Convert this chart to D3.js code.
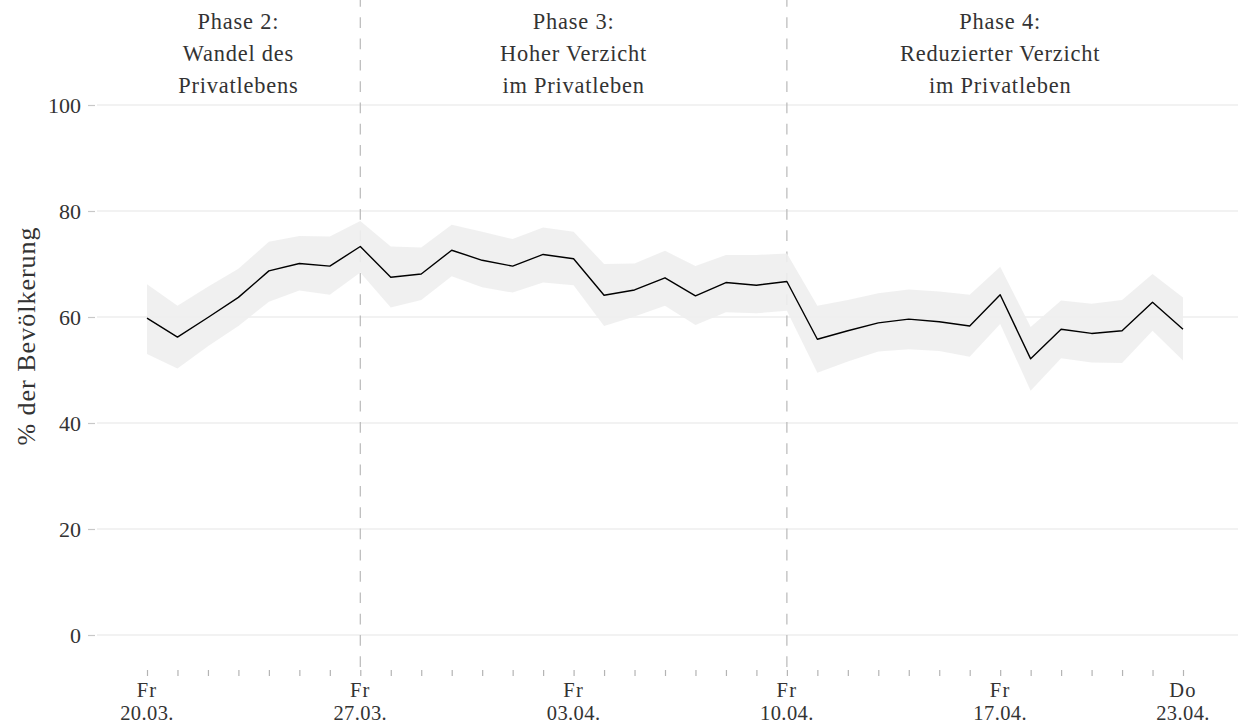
<!DOCTYPE html>
<html>
<head>
<meta charset="utf-8">
<script src="https://cdn.jsdelivr.net/npm/d3@7"></script>
<style>
  body { margin: 0; background: #fff; }
  svg { display: block; }
  text { font-family: "Liberation Serif", serif; fill: #333; }
</style>
</head>
<body>
<div class="chart"></div>
<script>
(function() {
  // Daten: Anteil der Bevölkerung mit Verzicht im Privatleben (mit Konfidenzband)
  var days = ["2020-03-20","2020-03-21","2020-03-22","2020-03-23","2020-03-24","2020-03-25","2020-03-26",
    "2020-03-27","2020-03-28","2020-03-29","2020-03-30","2020-03-31","2020-04-01","2020-04-02",
    "2020-04-03","2020-04-04","2020-04-05","2020-04-06","2020-04-07","2020-04-08","2020-04-09",
    "2020-04-10","2020-04-11","2020-04-12","2020-04-13","2020-04-14","2020-04-15","2020-04-16",
    "2020-04-17","2020-04-18","2020-04-19","2020-04-20","2020-04-21","2020-04-22","2020-04-23"];
  var share = [59.8, 56.2, 59.9, 63.7, 68.7, 70.1, 69.6,
    73.3, 67.5, 68.1, 72.6, 70.7, 69.6, 71.8,
    71.0, 64.1, 65.1, 67.4, 64.0, 66.5, 66.0,
    66.7, 55.8, 57.4, 58.9, 59.6, 59.1, 58.3,
    64.2, 52.1, 57.7, 56.9, 57.4, 62.8, 57.7];
  var lower = [53.0, 50.3, 54.5, 58.3, 62.9, 65.0, 64.2,
    68.4, 61.8, 63.2, 67.7, 65.6, 64.6, 66.5,
    66.0, 58.3, 60.1, 62.1, 58.5, 60.9, 60.7,
    61.2, 49.5, 51.6, 53.5, 53.9, 53.6, 52.5,
    58.7, 46.1, 52.2, 51.4, 51.3, 57.4, 51.8];
  var upper = [66.2, 62.1, 65.7, 69.1, 74.2, 75.3, 75.2,
    78.1, 73.3, 73.1, 77.4, 76.1, 74.7, 76.9,
    76.1, 70.0, 70.1, 72.5, 69.6, 71.7, 71.7,
    72.0, 62.1, 63.2, 64.5, 65.2, 64.8, 64.2,
    69.5, 58.1, 63.1, 62.5, 63.2, 68.1, 63.7];

  var yTicks = [0, 20, 40, 60, 80, 100];
  var xLabelDays = ["2020-03-20","2020-03-27","2020-04-03","2020-04-10","2020-04-17","2020-04-23"];
  var xLabelWeekday = ["Fr","Fr","Fr","Fr","Fr","Do"];
  var xLabelDate = ["20.03.","27.03.","03.04.","10.04.","17.04.","23.04."];

  var phaseBreaks = ["2020-03-27","2020-04-10"];
  var phaseAt = ["2020-03-23","2020-04-03","2020-04-17"];
  var phaseLines = [
    ["Phase 2:", "Wandel des", "Privatlebens"],
    ["Phase 3:", "Hoher Verzicht", "im Privatleben"],
    ["Phase 4:", "Reduzierter Verzicht", "im Privatleben"]];

  var width = 1238, height = 725;
  var parse = d3.timeParse("%Y-%m-%d");

  var data = days.map(function(d, i) {
    return { date: parse(d), v: share[i], lo: lower[i], hi: upper[i] };
  });

  var x = d3.scaleTime()
    .domain([parse(days[0]), parse(days[days.length - 1])])
    .range([147, 1183]);
  var y = d3.scaleLinear().domain([0, 100]).range([635, 105]);

  var svg = d3.select(".chart").append("svg")
    .attr("width", width)
    .attr("height", height);

  // Gitterlinien
  svg.append("g").selectAll("line")
    .data(yTicks).enter()
    .append("line")
      .attr("x1", 97).attr("x2", width)
      .attr("y1", function(d) { return y(d); })
      .attr("y2", function(d) { return y(d); })
      .attr("stroke", "#e6e6e6")
      .attr("stroke-width", 1.2);

  // y-Achse
  var yAxis = svg.append("g")
    .attr("transform", "translate(95,0)")
    .call(d3.axisLeft(y).tickValues(yTicks).tickSize(7).tickPadding(7));
  yAxis.select(".domain").remove();
  yAxis.selectAll(".tick line").attr("stroke", "#c8c8c8").attr("stroke-width", 1.2);
  yAxis.selectAll(".tick text")
    .attr("font-family", "Liberation Serif, serif")
    .attr("font-size", 22)
    .attr("fill", "#333");

  // x-Achse: kleine Striche für jeden Tag
  var xAxis = svg.append("g")
    .attr("transform", "translate(0,670)")
    .call(d3.axisBottom(x).tickValues(data.map(function(d) { return d.date; }))
      .tickSize(6).tickFormat(""));
  xAxis.select(".domain").remove();
  xAxis.selectAll(".tick line").attr("stroke", "#b4b4b4").attr("stroke-width", 1.2);

  var labels = svg.append("g").selectAll("text")
    .data(xLabelDays).enter()
    .append("text")
      .attr("text-anchor", "middle")
      .attr("font-size", 20.5)
      .attr("transform", function(d) { return "translate(" + x(parse(d)) + ",0)"; });
  labels.append("tspan").attr("x", 0).attr("y", 697)
    .attr("letter-spacing", 1.2)
    .text(function(d, i) { return xLabelWeekday[i]; });
  labels.append("tspan").attr("x", 0).attr("y", 720)
    .attr("letter-spacing", 0.4)
    .text(function(d, i) { return xLabelDate[i]; });

  // Phasengrenzen
  svg.append("g").selectAll("line")
    .data(phaseBreaks).enter()
    .append("line")
      .attr("x1", function(d) { return x(parse(d)); })
      .attr("x2", function(d) { return x(parse(d)); })
      .attr("y1", -4).attr("y2", 676)
      .attr("stroke", "#b9b9b9")
      .attr("stroke-width", 1.2)
      .attr("stroke-dasharray", "10.7,10.6");

  // Konfidenzband
  svg.append("path")
    .datum(data)
    .attr("fill", "#eeeeee")
    .attr("fill-opacity", 0.9)
    .attr("d", d3.area()
      .x(function(d) { return x(d.date); })
      .y0(function(d) { return y(d.lo); })
      .y1(function(d) { return y(d.hi); }));

  // Linie
  svg.append("path")
    .datum(data)
    .attr("fill", "none")
    .attr("stroke", "#000")
    .attr("stroke-width", 1.4)
    .attr("stroke-linejoin", "round")
    .attr("d", d3.line()
      .x(function(d) { return x(d.date); })
      .y(function(d) { return y(d.v); }));

  // Phasentitel
  var ph = svg.append("g").selectAll("text")
    .data(phaseAt).enter()
    .append("text")
      .attr("text-anchor", "middle")
      .attr("font-size", 22.4)
      .attr("letter-spacing", 0.8)
      .attr("transform", function(d) { return "translate(" + x(parse(d)) + ",0)"; });
  ph.each(function(d, i) {
    var t = d3.select(this);
    phaseLines[i].forEach(function(s, j) {
      t.append("tspan").attr("x", 0).attr("y", 29 + j * 32).text(s);
    });
  });

  // y-Achsentitel
  svg.append("text")
    .attr("transform", "translate(35,336) rotate(-90)")
    .attr("text-anchor", "middle")
    .attr("font-size", 26)
    .attr("letter-spacing", 1)
    .text("% der Bevölkerung");
})();
</script>
</body>
</html>
